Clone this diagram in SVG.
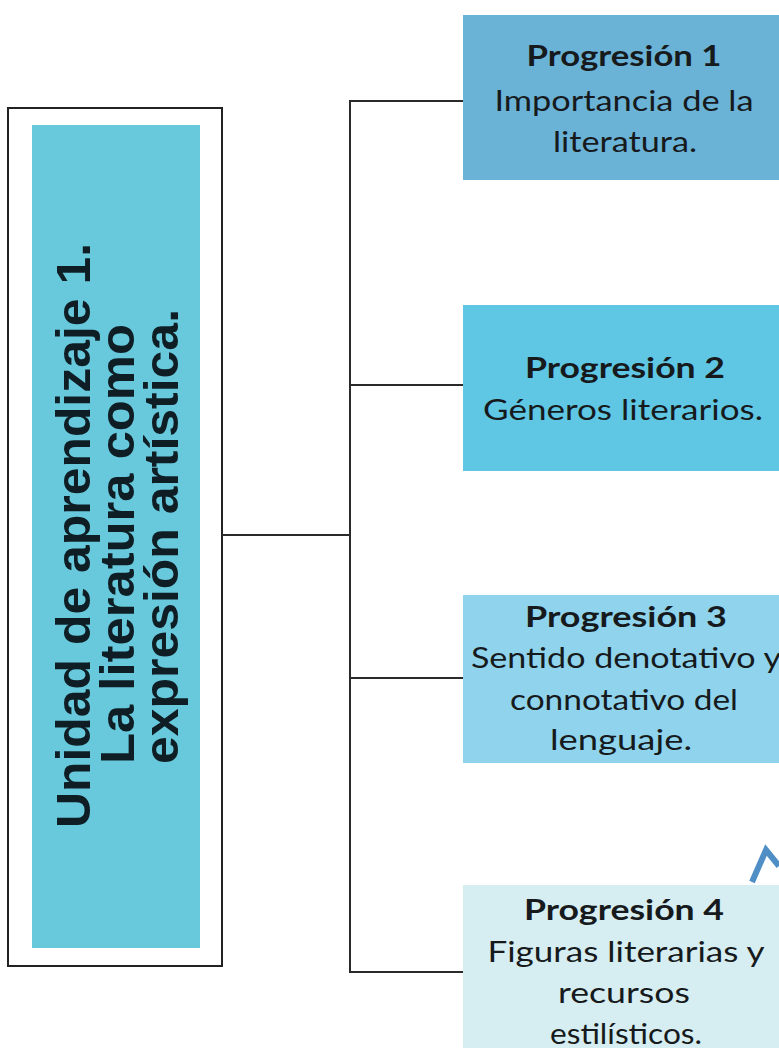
<svg xmlns="http://www.w3.org/2000/svg" width="779" height="1048" viewBox="0 0 779 1048">
<style>
.conn{stroke:#2a2a2a;stroke-width:2;fill:none}
.head{font-family:Lato,"Liberation Sans",sans-serif;font-weight:bold;font-size:29px;fill:#161a1c;text-anchor:middle}
.body{font-family:Lato,"Liberation Sans",sans-serif;font-size:29px;fill:#161a1c;text-anchor:middle}
.vert{font-family:"Liberation Sans",Arial,sans-serif;font-weight:bold;font-size:48px;fill:#0e1e24}
</style>
<rect width="779" height="1048" fill="#ffffff"/>
<g id="unidad">
<rect x="8" y="108" width="214" height="858" fill="#ffffff" stroke="#222" stroke-width="2"/>
<rect x="32" y="125" width="168" height="823" fill="#68c9dd"/>
<text class="vert" transform="translate(90,828) rotate(-90)" textLength="585" lengthAdjust="spacingAndGlyphs">Unidad de aprendizaje 1.</text>
<text class="vert" transform="translate(134,764) rotate(-90)" textLength="440" lengthAdjust="spacingAndGlyphs">La literatura como</text>
<text class="vert" transform="translate(178,764) rotate(-90)" textLength="455" lengthAdjust="spacingAndGlyphs">expresión artística.</text>
</g>
<g id="connectors">
<line class="conn" x1="222" y1="535" x2="350" y2="535"/>
<line class="conn" x1="350" y1="100" x2="350" y2="973"/>
<line class="conn" x1="349" y1="101" x2="463" y2="101"/>
<line class="conn" x1="350" y1="385" x2="463" y2="385"/>
<line class="conn" x1="350" y1="678" x2="463" y2="678"/>
<line class="conn" x1="349" y1="972" x2="463" y2="972"/>
</g>
<g id="progresion1">
<rect x="463" y="15" width="316" height="165" fill="#6ab2d6"/>
<text class="head" x="624" y="66" textLength="195" lengthAdjust="spacingAndGlyphs">Progresión 1</text>
<text class="body" x="624" y="111" textLength="259" lengthAdjust="spacingAndGlyphs">Importancia de la</text>
<text class="body" x="625" y="152" textLength="144" lengthAdjust="spacingAndGlyphs">literatura.</text>
</g>
<g id="progresion2">
<rect x="463" y="305" width="316" height="166" fill="#5fc7e3"/>
<text class="head" x="625" y="378" textLength="200" lengthAdjust="spacingAndGlyphs">Progresión 2</text>
<text class="body" x="623" y="420" textLength="280" lengthAdjust="spacingAndGlyphs">Géneros literarios.</text>
</g>
<g id="progresion3">
<rect x="463" y="595" width="316" height="168" fill="#8fd4ec"/>
<text class="head" x="626" y="627" textLength="202" lengthAdjust="spacingAndGlyphs">Progresión 3</text>
<text class="body" x="626" y="668" textLength="310" lengthAdjust="spacingAndGlyphs">Sentido denotativo y</text>
<text class="body" x="624" y="710" textLength="228" lengthAdjust="spacingAndGlyphs">connotativo del</text>
<text class="body" x="621" y="750" textLength="142" lengthAdjust="spacingAndGlyphs">lenguaje.</text>
</g>
<g id="progresion4">
<rect x="463" y="885" width="316" height="163" fill="#d6eef1"/>
<text class="head" x="624" y="920" textLength="200" lengthAdjust="spacingAndGlyphs">Progresión 4</text>
<text class="body" x="626" y="962" textLength="277" lengthAdjust="spacingAndGlyphs">Figuras literarias y</text>
<text class="body" x="624" y="1003" textLength="132" lengthAdjust="spacingAndGlyphs">recursos</text>
<text class="body" x="626" y="1044" textLength="152" lengthAdjust="spacingAndGlyphs">estilísticos.</text>
</g>
<path d="M752 882 L766 850 L779 866" fill="none" stroke="#4f8fc6" stroke-width="6" stroke-linejoin="miter"/>
</svg>
